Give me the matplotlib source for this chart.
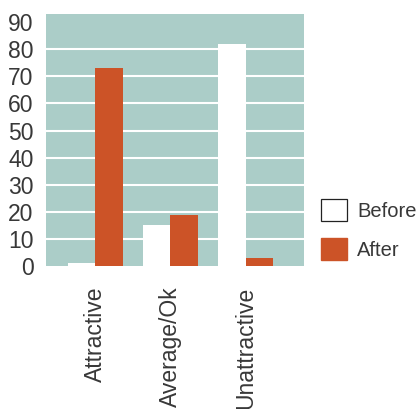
import matplotlib
matplotlib.use("Agg")
import matplotlib.pyplot as plt
import numpy as np
from matplotlib.patches import Patch

categories = ["Attractive", "Average/Ok", "Unattractive"]
before = [1, 15, 82]
after = [73, 19, 3]
y_ticks = [0, 10, 20, 30, 40, 50, 60, 70, 80, 90]
grid_values = [10, 20, 30, 40, 50, 60, 70, 80]

BG = "#abcdc8"
ORANGE = "#cc5327"
TEXT = "#383838"

plt.rcParams["font.family"] = ["Liberation Sans", "DejaVu Sans"]

fig = plt.figure(figsize=(4.18, 4.09), dpi=100)
ax = fig.add_axes([46 / 418, 1 - 266 / 409, 258 / 418, 252 / 409])
ax.set_facecolor(BG)

x = np.arange(len(categories))
w = 0.365
for v in grid_values:
    ax.axhline(v, color="white", lw=1.5, zorder=1)
ax.bar(x - w / 2, before, width=w, color="white", zorder=2)
ax.bar(x + w / 2, after, width=w, color=ORANGE, zorder=2)

ax.set_xlim(-0.65, 2.77)
ax.set_ylim(0, 93)
ax.set_yticks(y_ticks)
ax.set_xticks(x)
ax.set_xticklabels(categories, rotation=90)
ax.tick_params(axis="y", length=0, pad=9, labelsize=16.5, labelcolor=TEXT)
ax.tick_params(axis="x", length=0, pad=15, labelsize=16.5, labelcolor=TEXT)
for s in ax.spines.values():
    s.set_visible(False)

handles = [
    Patch(facecolor="white", edgecolor="#222222", linewidth=0.9),
    Patch(facecolor=ORANGE, edgecolor=ORANGE),
]
fig.legend(handles, ["Before", "After"], loc="upper left",
           bbox_to_anchor=(321 / 418, 1 - 199 / 409), frameon=False,
           fontsize=14.5, labelcolor=TEXT, handlelength=1.3, handleheight=1.3,
           handletextpad=0.5, labelspacing=0.85, borderpad=0, borderaxespad=0)

fig.savefig("out.png", dpi=100)
